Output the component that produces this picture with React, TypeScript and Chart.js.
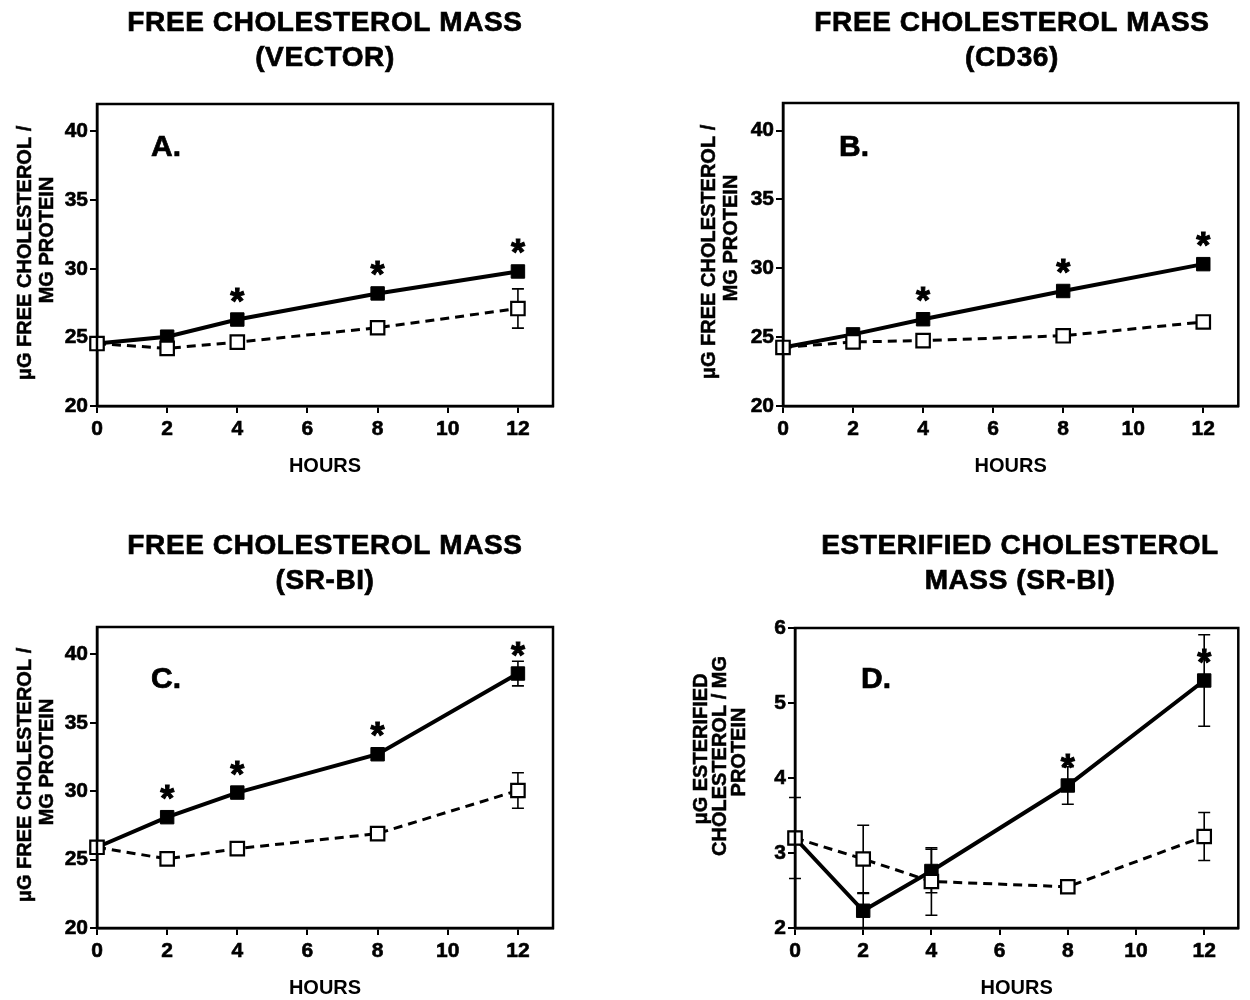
import React, { useEffect, useRef } from "react";
import { Chart, registerables } from "chart.js";

Chart.register(...registerables);

// ---------- data ----------
const hours = [0, 2, 4, 8, 12];
const xTickValues = [0, 2, 4, 6, 8, 10, 12];
const freeTickValues = [20, 25, 30, 35, 40];
const esterTickValues = [2, 3, 4, 5, 6];

// Panel A: vector
const vectorTreated = [24.55, 25.05, 26.3, 28.2, 29.8];
const vectorTreatedErr = [null, null, null, null, null];
const vectorControl = [24.55, 24.2, 24.65, 25.7, 27.1];
const vectorControlErr = [null, null, null, null, 1.43];
const vectorStarHours = [4, 8, 12];

// Panel B: CD36
const cd36Treated = [24.25, 25.2, 26.3, 28.35, 30.3];
const cd36TreatedErr = [null, null, null, null, null];
const cd36Control = [24.25, 24.65, 24.75, 25.1, 26.1];
const cd36ControlErr = [null, null, null, null, null];
const cd36StarHours = [4, 8, 12];

// Panel C: SR-BI free cholesterol
const srbiFreeTreated = [25.9, 28.1, 29.9, 32.7, 38.6];
const srbiFreeTreatedErr = [null, null, null, null, 0.9];
const srbiFreeControl = [25.9, 25.05, 25.8, 26.9, 30.05];
const srbiFreeControlErr = [null, null, null, null, 1.3];
const srbiFreeStarHours = [2, 4, 8, 12];

// Panel D: SR-BI esterified cholesterol
const srbiEsterTreated = [3.2, 2.23, 2.76, 3.9, 5.3];
const srbiEsterTreatedErr = [0.54, 0.23, 0.29, 0.25, 0.61];
const srbiEsterControl = [3.2, 2.92, 2.62, 2.55, 3.22];
const srbiEsterControlErr = [null, 0.45, 0.45, null, 0.32];
const srbiEsterStarHours = [8, 12];

// ---------- layout / style ----------
const FONT = '"Liberation Sans", Arial, Helvetica, sans-serif';
const PANEL_W = 625;
const PANEL_H = 500;

type Panel = {
  origin: [number, number];
  area: { l: number; t: number; r: number; b: number };
  yMin: number;
  yMax: number;
  yTicks: number[];
  treated: number[];
  treatedErr: (number | null)[];
  control: number[];
  controlErr: (number | null)[];
  starHours: number[];
  title: string[];
  titleX: number;
  titleY: number[];
  yTitle: string[];
  yTitleX: number[];
  yTitleY: number[];
  yTitleSize: number;
  letter: string;
  letterX: number;
  letterY: number;
  hoursY: number;
};

const panels: Panel[] = [
  {
    origin: [0, 0],
    area: { l: 97, t: 104, r: 553, b: 406 },
    yMin: 20, yMax: 42, yTicks: freeTickValues,
    treated: vectorTreated, treatedErr: vectorTreatedErr,
    control: vectorControl, controlErr: vectorControlErr,
    starHours: vectorStarHours,
    title: ["FREE CHOLESTEROL MASS", "(VECTOR)"], titleX: 325, titleY: [23, 58],
    yTitle: ["μG FREE CHOLESTEROL /", "MG PROTEIN"], yTitleX: [25, 47], yTitleY: [253, 240], yTitleSize: 20,
    letter: "A.", letterX: 166, letterY: 148,
    hoursY: 466,
  },
  {
    origin: [625, 0],
    area: { l: 783, t: 103, r: 1240, b: 406 },
    yMin: 20, yMax: 42, yTicks: freeTickValues,
    treated: cd36Treated, treatedErr: cd36TreatedErr,
    control: cd36Control, controlErr: cd36ControlErr,
    starHours: cd36StarHours,
    title: ["FREE CHOLESTEROL MASS", "(CD36)"], titleX: 1012, titleY: [23, 58],
    yTitle: ["μG FREE CHOLESTEROL /", "MG PROTEIN"], yTitleX: [709, 731], yTitleY: [252, 238], yTitleSize: 20,
    letter: "B.", letterX: 854, letterY: 148,
    hoursY: 466,
  },
  {
    origin: [0, 500],
    area: { l: 97, t: 627, r: 553, b: 928 },
    yMin: 20, yMax: 42, yTicks: freeTickValues,
    treated: srbiFreeTreated, treatedErr: srbiFreeTreatedErr,
    control: srbiFreeControl, controlErr: srbiFreeControlErr,
    starHours: srbiFreeStarHours,
    title: ["FREE CHOLESTEROL MASS", "(SR-BI)"], titleX: 325, titleY: [546, 581],
    yTitle: ["μG FREE CHOLESTEROL /", "MG PROTEIN"], yTitleX: [25, 47], yTitleY: [775, 762], yTitleSize: 20,
    letter: "C.", letterX: 166, letterY: 680,
    hoursY: 989,
  },
  {
    origin: [625, 500],
    area: { l: 795, t: 628, r: 1246, b: 928 },
    yMin: 2, yMax: 6, yTicks: esterTickValues,
    treated: srbiEsterTreated, treatedErr: srbiEsterTreatedErr,
    control: srbiEsterControl, controlErr: srbiEsterControlErr,
    starHours: srbiEsterStarHours,
    title: ["ESTERIFIED CHOLESTEROL", "MASS (SR-BI)"], titleX: 1020, titleY: [546, 581],
    yTitle: ["μG ESTERIFIED", "CHOLESTEROL / MG", "PROTEIN"],
    yTitleX: [701, 720, 739], yTitleY: [749, 756, 752], yTitleSize: 20,
    letter: "D.", letterX: 876, letterY: 680,
    hoursY: 989,
  },
];

function heavyText(ctx: CanvasRenderingContext2D, text: string, x: number, y: number, w: number) {
  ctx.fillText(text, x, y);
  ctx.lineWidth = w;
  ctx.strokeText(text, x, y);
}

const decorPlugin = {
  id: "panelDecor",
  beforeDatasetsDraw(chart: any) {
    const { ctx } = chart;
    const xs = chart.scales.x;
    const ys = chart.scales.y;
    ctx.save();
    ctx.strokeStyle = "#000";
    ctx.lineWidth = 1.6;
    chart.data.datasets.forEach((ds: any) => {
      const errs = ds.errors || [];
      ds.data.forEach((p: any, j: number) => {
        const e = errs[j];
        if (e == null) return;
        const x = xs.getPixelForValue(p.x);
        const yt = ys.getPixelForValue(p.y + e);
        const yb = ys.getPixelForValue(p.y - e);
        ctx.beginPath();
        ctx.moveTo(x, yt);
        ctx.lineTo(x, yb);
        ctx.moveTo(x - 6, yt);
        ctx.lineTo(x + 6, yt);
        ctx.moveTo(x - 6, yb);
        ctx.lineTo(x + 6, yb);
        ctx.stroke();
      });
    });
    ctx.restore();
  },
  afterDatasetsDraw(chart: any) {
    const { ctx } = chart;
    const xs = chart.scales.x;
    const ys = chart.scales.y;
    ctx.save();
    ctx.fillStyle = "#000";
    ctx.strokeStyle = "#000";
    ctx.font = `bold 36px ${FONT}`;
    ctx.textAlign = "center";
    ctx.textBaseline = "alphabetic";
    const m = ctx.measureText("*");
    const shift = (m.actualBoundingBoxAscent - m.actualBoundingBoxDescent) / 2;
    chart.data.datasets.forEach((ds: any) => {
      const stars = ds.starHours || [];
      ds.data.forEach((p: any) => {
        if (!stars.includes(p.x)) return;
        const x = xs.getPixelForValue(p.x);
        const y = ys.getPixelForValue(p.y) - 25;
        heavyText(ctx, "*", x, y + shift, 1);
      });
    });
    ctx.restore();
  },
  afterDraw(chart: any, _args: any, opts: any) {
    const { ctx, chartArea } = chart;
    const [ox, oy] = opts.origin;
    ctx.save();
    ctx.strokeStyle = "#000";
    ctx.lineWidth = 2.5;
    ctx.strokeRect(chartArea.left, chartArea.top, chartArea.right - chartArea.left, chartArea.bottom - chartArea.top);
    ctx.fillStyle = "#000";
    ctx.textAlign = "center";
    ctx.textBaseline = "middle";
    // chart title
    ctx.font = `bold 28px ${FONT}`;
    (ctx as any).letterSpacing = "0.6px";
    opts.title.forEach((line: string, i: number) => {
      heavyText(ctx, line, opts.titleX - ox, opts.titleY[i] - oy, 0.7);
    });
    // y-axis title
    ctx.font = `bold ${opts.yTitleSize}px ${FONT}`;
    (ctx as any).letterSpacing = "0px";
    opts.yTitle.forEach((line: string, i: number) => {
      ctx.save();
      ctx.translate(opts.yTitleX[i] - ox, opts.yTitleY[i] - oy);
      ctx.rotate(-Math.PI / 2);
      heavyText(ctx, line, 0, 0, 0.5);
      ctx.restore();
    });
    // panel letter
    ctx.font = `bold 30px ${FONT}`;
    heavyText(ctx, opts.letter, opts.letterX - ox, opts.letterY - oy, 0.7);
    ctx.restore();
  },
};

function PanelChart({ cfg }: { cfg: Panel }) {
  const ref = useRef<HTMLCanvasElement>(null);
  useEffect(() => {
    const [ox, oy] = cfg.origin;
    const { l, t, r, b } = cfg.area;
    const tickFont = { family: FONT, size: 21, weight: "bold" as const };
    const chart = new Chart(ref.current as HTMLCanvasElement, {
      type: "line",
      data: {
        datasets: [
          {
            label: "Control",
            data: hours.map((h, i) => ({ x: h, y: cfg.control[i] })),
            errors: cfg.controlErr,
            starHours: [],
            borderColor: "#000",
            borderWidth: 3,
            borderDash: [9, 6],
            pointStyle: "rect",
            pointRadius: 9.5,
            pointBackgroundColor: "#fff",
            pointBorderColor: "#000",
            pointBorderWidth: 2.2,
            tension: 0,
            fill: false,
            clip: false,
          } as any,
          {
            label: "Treated",
            data: hours.map((h, i) => ({ x: h, y: cfg.treated[i] })),
            errors: cfg.treatedErr,
            starHours: cfg.starHours,
            borderColor: "#000",
            borderWidth: 4,
            pointStyle: "rect",
            pointRadius: 9.5,
            pointBackgroundColor: "#000",
            pointBorderColor: "#000",
            pointBorderWidth: 1,
            tension: 0,
            fill: false,
            clip: false,
          } as any,
        ],
      },
      options: {
        responsive: false,
        animation: false,
        devicePixelRatio: 1,
        layout: { padding: { left: 0, top: t - oy, right: ox + PANEL_W - r, bottom: 0 } },
        plugins: {
          legend: { display: false },
          tooltip: { enabled: false },
          title: { display: false },
          panelDecor: {
            origin: cfg.origin,
            title: cfg.title,
            titleX: cfg.titleX,
            titleY: cfg.titleY,
            yTitle: cfg.yTitle,
            yTitleX: cfg.yTitleX,
            yTitleY: cfg.yTitleY,
            yTitleSize: cfg.yTitleSize,
            letter: cfg.letter,
            letterX: cfg.letterX,
            letterY: cfg.letterY,
          },
        } as any,
        scales: {
          x: {
            type: "linear",
            min: 0,
            max: 13,
            afterBuildTicks: (s: any) => {
              s.ticks = xTickValues.map((v) => ({ value: v }));
            },
            afterFit: (s: any) => {
              s.height = oy + PANEL_H - b;
            },
            grid: { display: true, drawOnChartArea: false, drawTicks: true, tickLength: 7, color: "#000", lineWidth: 2, tickWidth: 2 },
            border: { display: true, color: "#000", width: 2.5 },
            ticks: { color: "#000", font: tickFont, padding: 4, maxRotation: 0, autoSkip: false, textStrokeColor: "#000", textStrokeWidth: 0.6 },
            title: {
              display: true,
              text: "HOURS",
              color: "#000",
              font: { family: FONT, size: 20, weight: "bold" },
              padding: { top: 0, bottom: Math.max(0, oy + PANEL_H - cfg.hoursY - 12) },
            },
          },
          y: {
            type: "linear",
            min: cfg.yMin,
            max: cfg.yMax,
            afterBuildTicks: (s: any) => {
              s.ticks = cfg.yTicks.map((v) => ({ value: v }));
            },
            afterFit: (s: any) => {
              s.width = l - ox;
            },
            grid: { display: true, drawOnChartArea: false, drawTicks: true, tickLength: 7, color: "#000", lineWidth: 2, tickWidth: 2 },
            border: { display: true, color: "#000", width: 2.5 },
            ticks: { color: "#000", font: tickFont, padding: 2, autoSkip: false, textStrokeColor: "#000", textStrokeWidth: 0.6 },
          },
        },
      },
      plugins: [decorPlugin],
    });
    return () => chart.destroy();
  }, [cfg]);
  return (
    <canvas
      ref={ref}
      width={PANEL_W}
      height={PANEL_H}
      style={{ position: "absolute", left: cfg.origin[0], top: cfg.origin[1], width: PANEL_W, height: PANEL_H }}
    />
  );
}

export default function App() {
  return (
    <div style={{ position: "absolute", left: 0, top: 0, width: 1250, height: 1000, background: "#fff" }}>
      {panels.map((p, i) => (
        <PanelChart key={i} cfg={p} />
      ))}
    </div>
  );
}
